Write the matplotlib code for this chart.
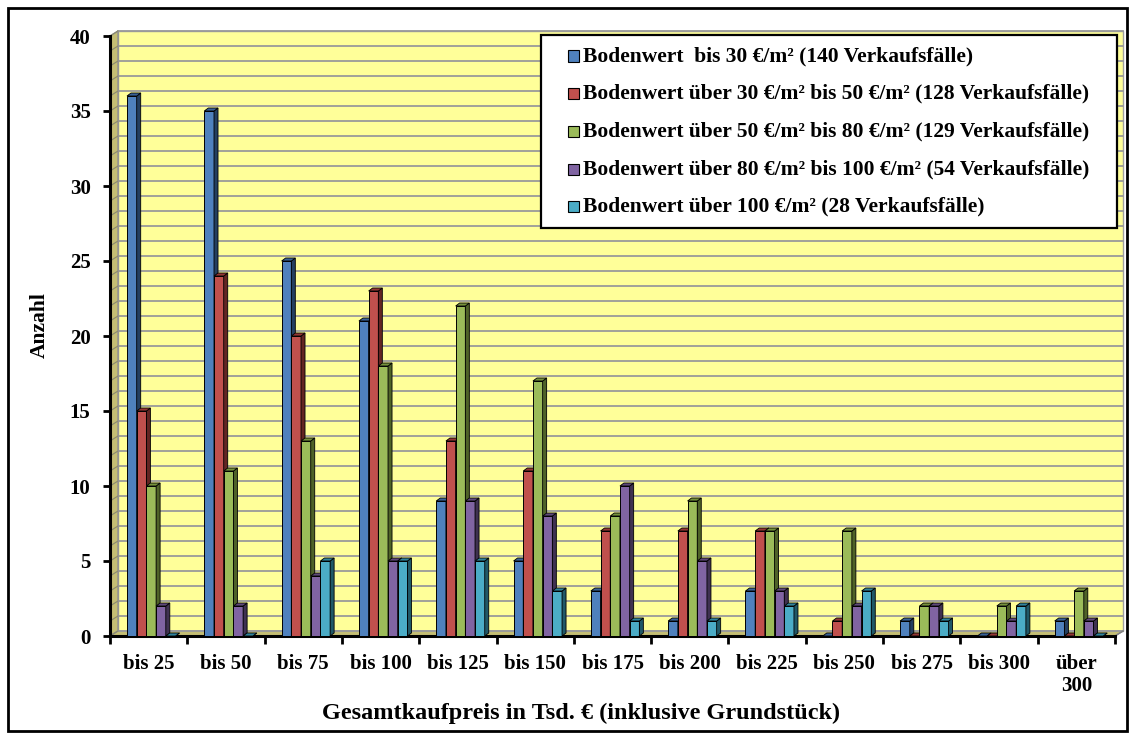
import matplotlib
matplotlib.use("Agg")
import matplotlib.pyplot as plt
from matplotlib.patches import Polygon, Rectangle
import numpy as np

categories = ["bis 25", "bis 50", "bis 75", "bis 100", "bis 125", "bis 150", "bis 175",
              "bis 200", "bis 225", "bis 250", "bis 275", "bis 300", "über\n300"]
series_names = [
    "Bodenwert  bis 30 €/m² (140 Verkaufsfälle)",
    "Bodenwert über 30 €/m² bis 50 €/m² (128 Verkaufsfälle)",
    "Bodenwert über 50 €/m² bis 80 €/m² (129 Verkaufsfälle)",
    "Bodenwert über 80 €/m² bis 100 €/m² (54 Verkaufsfälle)",
    "Bodenwert über 100 €/m² (28 Verkaufsfälle)",
]
s_bis30 = [36, 35, 25, 21, 9, 5, 3, 1, 3, 0, 1, 0, 1]
s_30_50 = [15, 24, 20, 23, 13, 11, 7, 7, 7, 1, 0, 0, 0]
s_50_80 = [10, 11, 13, 18, 22, 17, 8, 9, 7, 7, 2, 2, 3]
s_80_100 = [2, 2, 4, 5, 9, 8, 10, 5, 3, 2, 2, 1, 1]
s_100 = [0, 0, 5, 5, 5, 3, 1, 1, 2, 3, 1, 2, 0]
series = [s_bis30, s_30_50, s_50_80, s_80_100, s_100]
y_ticks = [0, 5, 10, 15, 20, 25, 30, 35, 40]

front = ["#4F81BD", "#C0504D", "#9BBB59", "#8064A2", "#4BACC6"]
side = ["#243F60", "#632523", "#4F6228", "#3F3151", "#205867"]
top = ["#3A6396", "#943734", "#76923C", "#5F497A", "#31849B"]

W, H = 1134, 737
fig = plt.figure(figsize=(W / 100, H / 100), dpi=100)
fig.patch.set_facecolor("white")

L, R, T, B = 110, 1115, 36, 636
ax = fig.add_axes([L / W, 1 - B / H, (R - L) / W, (B - T) / H])
ncat = len(categories)
ax.set_xlim(0, ncat)
ax.set_ylim(0, 40)
ux = ncat / (R - L)
uy = 40 / (B - T)
for sp in ["top", "right"]:
    ax.spines[sp].set_visible(False)
ax.spines["left"].set_linewidth(2.2)
ax.spines["bottom"].set_linewidth(2.2)
ax.patch.set_visible(False)

# 3D walls
dxw, dyw = 8 * ux, 5 * uy
wall_y = "#FFFF99"
ax.add_patch(Polygon([(dxw, dyw), (ncat + dxw, dyw), (ncat + dxw, 40 + dyw), (dxw, 40 + dyw)],
                     closed=True, facecolor=wall_y, edgecolor="#A0A0A0", lw=1, zorder=0.5, clip_on=False))
ax.add_patch(Polygon([(0, 0), (dxw, dyw), (dxw, 40 + dyw), (0, 40)],
                     closed=True, facecolor="#C4BE74", edgecolor="#909090", lw=1, zorder=0.6, clip_on=False))
ax.add_patch(Polygon([(0, 0), (ncat, 0), (ncat + dxw, dyw), (dxw, dyw)],
                     closed=True, facecolor="#C4BE74", edgecolor="#909090", lw=1, zorder=0.6, clip_on=False))
for k in range(0, 41):
    ax.plot([dxw, ncat + dxw], [k + dyw, k + dyw], color="#9A9A9A", lw=1.3, zorder=0.7, clip_on=False)
    ax.plot([0, dxw], [k, k + dyw], color="#8A8A70", lw=0.8, zorder=0.7, clip_on=False)
ax.plot([ncat, ncat + dxw], [0, dyw], color="#808080", lw=1, zorder=0.7, clip_on=False)

# bars
pitch = 9.7 / 77.3
start = 17 / 77.3
dxb, dyb = 4 * ux, 3 * uy
xs = np.arange(ncat)
for j, vals in enumerate(series):
    z = 3 + j * 0.1
    bars = ax.bar(xs + start + j * pitch, vals, width=pitch, align="edge", color=front[j],
                  edgecolor="black", linewidth=0.7, zorder=z, label=series_names[j])
    for b in bars:
        x0, w, h = b.get_x(), b.get_width(), b.get_height()
        ax.add_patch(Polygon([(x0 + w, 0), (x0 + w + dxb, dyb), (x0 + w + dxb, h + dyb), (x0 + w, h)],
                             closed=True, facecolor=side[j], edgecolor="black", lw=0.6, zorder=z, clip_on=False))
        ax.add_patch(Polygon([(x0, h), (x0 + w, h), (x0 + w + dxb, h + dyb), (x0 + dxb, h + dyb)],
                             closed=True, facecolor=top[j], edgecolor="black", lw=0.6, zorder=z, clip_on=False))

# ticks
ax.set_yticks(y_ticks)
ax.set_yticklabels([str(v) for v in y_ticks])
ax.set_xticks(np.arange(ncat + 1))
ax.set_xticklabels([])
ax.set_xticks(xs + 0.5, minor=True)
ax.set_xticklabels(categories, minor=True)
ax.tick_params(axis="y", direction="out", length=5, width=2, pad=9)
ax.tick_params(axis="x", which="major", direction="out", length=6, width=2)
ax.tick_params(axis="x", which="minor", length=0, pad=13)
fnt = dict(family="Liberation Serif", weight="bold")
for lab in ax.get_yticklabels():
    lab.set_fontfamily("Liberation Serif"); lab.set_fontweight("bold"); lab.set_fontsize(15)
for lab in ax.get_xticklabels(minor=True):
    lab.set_fontfamily("Liberation Serif"); lab.set_fontweight("bold"); lab.set_fontsize(15)
    lab.set_linespacing(1.15)

fig.text(40 / W, 1 - 325 / H, "Anzahl", rotation=90, ha="center", va="center", fontsize=15.5, **fnt)
fig.text(581 / W, 1 - 713 / H, "Gesamtkaufpreis in Tsd. € (inklusive Grundstück)",
         ha="center", va="center", fontsize=17.5, **fnt)

# legend (manual box)
lx0, ly0, lx1, ly1 = 541, 35, 1117, 228
fig.patches.append(Rectangle((lx0 / W, 1 - ly1 / H), (lx1 - lx0) / W, (ly1 - ly0) / H,
                             transform=fig.transFigure, facecolor="white", edgecolor="black",
                             lw=1.6, zorder=10))
for j, name in enumerate(series_names):
    yc = 56 + j * 37.7
    fig.patches.append(Rectangle((568 / W, 1 - (yc + 5.5) / H), 11 / W, 11 / H, transform=fig.transFigure,
                                 facecolor=front[j], edgecolor="black", lw=0.8, zorder=11))
    fig.text(583 / W, 1 - yc / H, name, ha="left", va="center", fontsize=15.5, zorder=12, **fnt)

# outer frame
fig.patches.append(Rectangle((8 / W, 1 - 731 / H), 1119 / W, 723 / H, transform=fig.transFigure,
                             facecolor="none", edgecolor="black", lw=2, zorder=20))

fig.savefig("out.png", dpi=100)
